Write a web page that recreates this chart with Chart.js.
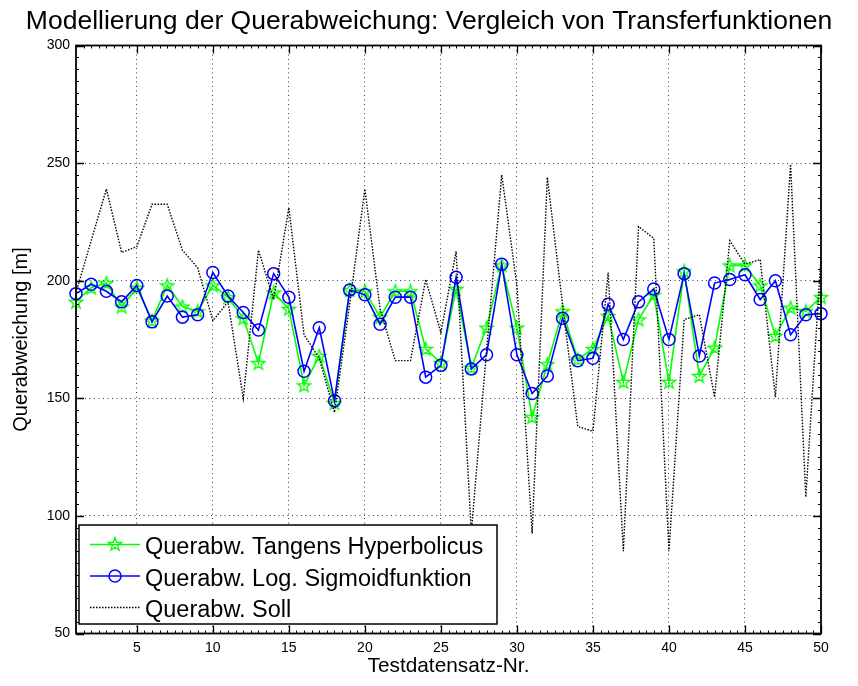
<!DOCTYPE html>
<html>
<head>
<meta charset="utf-8">
<script src="https://cdn.jsdelivr.net/npm/chart.js@4.4.0/dist/chart.umd.min.js"></script>
<style>
  html, body { margin: 0; padding: 0; background: #fff; }
  #wrap { width: 858px; height: 686px; }
</style>
</head>
<body>
<div id="wrap"><canvas id="myChart" width="858" height="686"></canvas></div>
<script>
// Testdatensatz-Nummern
const testNr = [1, 2, 3, 4, 5, 6, 7, 8, 9, 10, 11, 12, 13, 14, 15, 16, 17, 18, 19, 20,
  21, 22, 23, 24, 25, 26, 27, 28, 29, 30, 31, 32, 33, 34, 35, 36, 37, 38, 39, 40,
  41, 42, 43, 44, 45, 46, 47, 48, 49, 50];

// Querabweichung mit tansig
const tangensHyp = [191, 197, 199, 189, 197, 183, 198, 189, 187, 198,
  193, 184, 165, 195, 188, 155.5, 168, 148, 196, 195.5,
  184.5, 195.5, 195.5, 171, 165, 196.5, 163, 180, 206.5, 180,
  142, 164.5, 187, 166.5, 171, 185, 157, 183.5, 194, 157,
  204, 159.5, 171.5, 206.5, 206.5, 198, 176.5, 188.5, 187, 193];

// Querabweichung mit logsig
const logSigmoid = [194.5, 198.5, 195.5, 191, 198, 182.5, 193.5, 184.5, 185.5, 203.5,
  193.5, 186.5, 179, 203, 193, 161.5, 180, 149, 196, 194,
  181.5, 193, 193, 159, 164, 201.5, 162.5, 168.5, 207, 168.5,
  152, 159.5, 184, 166, 167, 190, 175, 191, 196.5, 175,
  203, 168, 199, 200.5, 202.5, 192, 200, 177, 185.5, 186];

// Sollwerte
const soll = [195, 217, 239, 212, 214.5, 232.5, 232.5, 213, 205.5, 183,
  191, 150, 213, 192, 231, 177, 167, 144, 190, 239,
  188, 166, 166, 200.5, 178, 212.5, 93, 170, 245, 198,
  92.5, 244, 190, 138, 136, 203.5, 85, 223, 218, 85,
  183.5, 185.5, 150.5, 217, 207, 209, 150.5, 249.5, 108, 210];

const xTicks = [5, 10, 15, 20, 25, 30, 35, 40, 45, 50];
const yTicks = [50, 100, 150, 200, 250, 300];

const FONT = '"Liberation Sans", Arial, Helvetica, sans-serif';

const toPoints = arr => arr.map((v, i) => ({ x: testNr[i], y: v }));

// Pentagramm als Markierung
function makePentagram(size, color) {
  const c = document.createElement('canvas');
  c.width = size; c.height = size;
  const g = c.getContext('2d');
  const cx = size / 2, cy = size / 2 + 0.5;
  const rOut = size / 2 - 1, rIn = rOut * 0.4;
  g.beginPath();
  for (let k = 0; k < 10; k++) {
    const r = k % 2 === 0 ? rOut : rIn;
    const a = -Math.PI / 2 + k * Math.PI / 5;
    const px = cx + r * Math.cos(a), py = cy + r * Math.sin(a);
    if (k === 0) g.moveTo(px, py); else g.lineTo(px, py);
  }
  g.closePath();
  g.lineWidth = 1.3;
  g.strokeStyle = color;
  g.stroke();
  return c;
}
const starImg = makePentagram(16, '#00ff00');

// Rahmen, Ticks nach innen und Legende
const axesBox = {
  id: 'axesBox',
  afterDatasetsDraw(chart) {
    const { ctx, chartArea: a, scales: { x, y } } = chart;
    ctx.save();
    ctx.strokeStyle = '#000';
    ctx.lineWidth = 1;
    ctx.beginPath();
    // Nebenticks
    for (let v = 1.5; v < 50; v += 0.5) {
      const px = Math.round(x.getPixelForValue(v)) + 0.5;
      ctx.moveTo(px, a.bottom); ctx.lineTo(px, a.bottom - 3);
      ctx.moveTo(px, a.top); ctx.lineTo(px, a.top + 3);
    }
    for (let v = 55; v < 300; v += 5) {
      const py = Math.round(y.getPixelForValue(v)) + 0.5;
      ctx.moveTo(a.left, py); ctx.lineTo(a.left + 3, py);
      ctx.moveTo(a.right, py); ctx.lineTo(a.right - 3, py);
    }
    ctx.stroke();
    ctx.lineWidth = 1.3;
    ctx.beginPath();
    xTicks.forEach(v => {
      const px = Math.round(x.getPixelForValue(v)) + 0.5;
      ctx.moveTo(px, a.bottom); ctx.lineTo(px, a.bottom - 8);
      ctx.moveTo(px, a.top); ctx.lineTo(px, a.top + 8);
    });
    yTicks.forEach(v => {
      const py = Math.round(y.getPixelForValue(v)) + 0.5;
      ctx.moveTo(a.left, py); ctx.lineTo(a.left + 8, py);
      ctx.moveTo(a.right, py); ctx.lineTo(a.right - 8, py);
    });
    ctx.stroke();
    ctx.lineWidth = 1.8;
    ctx.strokeRect(a.left, a.top, a.right - a.left, a.bottom - a.top);
    ctx.restore();
  },
  afterDraw(chart) {
    const { ctx, chartArea: a } = chart;
    const sets = chart.data.datasets;
    const bx = a.left + 3, by = 525, bw = 418, bh = 99;
    ctx.save();
    ctx.fillStyle = '#fff';
    ctx.fillRect(bx, by, bw, bh);
    ctx.strokeStyle = '#000';
    ctx.lineWidth = 1.5;
    ctx.strokeRect(bx, by, bw, bh);
    ctx.font = '23.5px ' + FONT;
    ctx.textBaseline = 'alphabetic';
    sets.forEach((ds, i) => {
      const cy = by + 19.5 + i * 31.5;
      ctx.strokeStyle = ds.borderColor;
      ctx.lineWidth = ds.borderWidth;
      ctx.setLineDash(ds.borderDash || []);
      ctx.beginPath();
      ctx.moveTo(bx + 11, cy); ctx.lineTo(bx + 61, cy);
      ctx.stroke();
      ctx.setLineDash([]);
      const mx = bx + 36;
      if (ds.pointStyle === 'circle') {
        ctx.beginPath();
        ctx.lineWidth = ds.pointBorderWidth;
        ctx.arc(mx, cy, ds.pointRadius, 0, Math.PI * 2);
        ctx.stroke();
      } else if (ds.pointStyle instanceof HTMLCanvasElement) {
        ctx.drawImage(ds.pointStyle, mx - 8, cy - 8.5);
      }
      ctx.fillStyle = '#000';
      ctx.fillText(ds.label, bx + 66, cy + 9.5);
    });
    ctx.restore();
  }
};

const ctx = document.getElementById('myChart').getContext('2d');
new Chart(ctx, {
  type: 'line',
  data: {
    datasets: [
      {
        label: 'Querabw. Tangens Hyperbolicus',
        data: toPoints(tangensHyp),
        borderColor: '#00ff00',
        borderWidth: 1.6,
        pointStyle: starImg,
        pointRadius: 7,
        order: 2,
        clip: false
      },
      {
        label: 'Querabw. Log. Sigmoidfunktion',
        data: toPoints(logSigmoid),
        borderColor: '#0000ff',
        borderWidth: 1.6,
        pointStyle: 'circle',
        pointRadius: 6,
        pointBorderWidth: 1.5,
        pointBackgroundColor: 'rgba(0,0,0,0)',
        pointBorderColor: '#0000ff',
        order: 1,
        clip: false
      },
      {
        label: 'Querabw. Soll',
        data: toPoints(soll),
        borderColor: '#000',
        borderWidth: 1.4,
        borderDash: [1.5, 1.5],
        pointRadius: 0,
        order: 0,
        clip: false
      }
    ]
  },
  options: {
    responsive: false,
    animation: false,
    devicePixelRatio: 1,
    layout: { padding: 0 },
    plugins: {
      legend: { display: false },
      tooltip: { enabled: false },
      title: {
        display: true,
        text: 'Modellierung der Querabweichung: Vergleich von Transferfunktionen',
        color: '#000',
        font: { family: FONT, size: 26.5, weight: 'normal' },
        padding: { top: 6, bottom: 7.7 }
      }
    },
    scales: {
      x: {
        type: 'linear',
        min: 1,
        max: 50,
        afterBuildTicks: s => { s.ticks = xTicks.map(v => ({ value: v })); },
        afterFit: s => { s.height = 52.5; },
        ticks: { color: '#000', font: { family: FONT, size: 14 }, padding: 6, maxRotation: 0 },
        grid: { color: 'rgba(0,0,0,0.75)', lineWidth: 1, drawTicks: false },
        border: { display: false, dash: [1, 3.5] },
        title: {
          display: true,
          text: 'Testdatensatz-Nr.',
          color: '#000',
          font: { family: FONT, size: 20.8 },
          padding: { top: 0, bottom: 7 }
        }
      },
      y: {
        type: 'linear',
        min: 50,
        max: 300,
        afterBuildTicks: s => { s.ticks = yTicks.map(v => ({ value: v })); },
        afterFit: s => { s.width = 76; },
        ticks: { color: '#000', font: { family: FONT, size: 14 }, padding: 6 },
        grid: { color: 'rgba(0,0,0,0.75)', lineWidth: 1, drawTicks: false },
        border: { display: false, dash: [1, 3.5] },
        title: {
          display: true,
          text: 'Querabweichung [m]',
          color: '#000',
          font: { family: FONT, size: 20 },
          padding: { top: 9, bottom: 0 }
        }
      },
      // leere rechte Achse als Rand
      yRight: {
        type: 'linear',
        position: 'right',
        min: 50,
        max: 300,
        afterFit: s => { s.width = 37; },
        ticks: { display: false },
        grid: { display: false, drawTicks: false },
        border: { display: false }
      }
    }
  },
  plugins: [axesBox]
});
</script>
</body>
</html>
